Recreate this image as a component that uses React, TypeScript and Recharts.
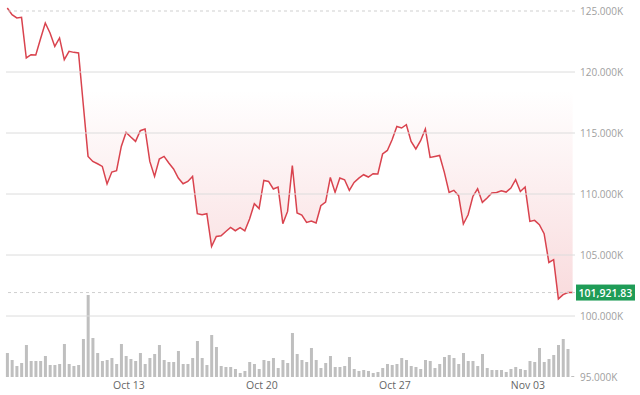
import React from 'react';
import {
  ComposedChart,
  Area,
  Bar,
  XAxis,
  YAxis,
  ReferenceLine,
} from 'recharts';

// 6-hour closes
const prices = [
  125250, 124700, 124430, 124480, 121150, 121420, 121400, 122730, 124020, 123200,
  122100, 122790, 121010, 121690, 121610, 121560, 117320, 113080, 112670, 112480,
  112260, 110820, 111800, 111910, 113900, 115050, 114670, 114310, 115190, 115330,
  112670, 111440, 112870, 113080, 112540, 112050, 111310, 110840, 111030, 111440,
  108390, 108300, 108380, 105700, 106520, 106580, 106930, 107260, 106990, 107250,
  106980, 107950, 109200, 108800, 111110, 111030, 110410, 110570, 107570, 108570,
  112320, 108440, 108280, 107670, 107790, 107620, 109040, 109340, 111360, 110130,
  111310, 111170, 110300, 110950, 111300, 111580, 111390, 111660, 111640, 113280,
  113570, 114450, 115540, 115410, 115680, 114310, 113690, 114370, 115330, 113000,
  113080, 113160, 111770, 110130, 110300, 109860, 107540, 108300, 109800, 110430,
  109310, 109670, 110080, 110130, 110270, 110160, 110490, 111170, 110210, 110570,
  107750, 107840, 107480, 106750, 104390, 104620, 101400, 101750, 101930, 101921.83,
];

// volume per bar (relative units)
const volumes = [
  24, 17, 11, 14, 32, 16, 16, 16, 21, 12,
  12, 13, 33, 13, 11, 12, 38, 82, 39, 24,
  16, 17, 19, 13, 33, 21, 18, 16, 24, 13,
  19, 23, 32, 17, 15, 15, 26, 13, 13, 19,
  36, 19, 12, 42, 30, 11, 10, 10, 8, 4,
  6, 15, 13, 8, 17, 16, 19, 9, 17, 14,
  44, 23, 17, 15, 29, 17, 9, 14, 21, 10,
  10, 11, 20, 8, 6, 7, 6, 4, 5, 9,
  13, 12, 13, 19, 17, 11, 10, 8, 17, 16,
  9, 13, 20, 22, 19, 13, 24, 16, 16, 11,
  23, 9, 7, 7, 7, 5, 8, 10, 8, 7,
  16, 15, 29, 15, 18, 22, 32, 38, 28, 1,
];

const dateTicks = [25.6, 53.6, 81.6, 109.6];
const dateLabels = ['Oct 13', 'Oct 20', 'Oct 27', 'Nov 03'];
const priceTicks = [95000, 100000, 105000, 110000, 115000, 120000, 125000];
const gridLevels = [100000, 105000, 110000, 115000, 120000];
const lastPrice = 101921.83;

const data = prices.map((p, i) => ({ i, price: p, volume: volumes[i] }));

const PriceTag = (props: any) => {
  const vb = props.viewBox || {};
  const x = vb.x + vb.width + 1;
  const y = vb.y;
  return (
    <g>
      <rect x={x} y={y - 8} width={59} height={16} fill="#1f9c57" />
      <text
        x={x + 29.5}
        y={y + 4}
        textAnchor="middle"
        fill="#fff"
        fontSize={10.5}
        fontWeight={600}
        fontFamily="Open Sans"
      >
        {lastPrice.toLocaleString('en-US', { minimumFractionDigits: 2 })}
      </text>
    </g>
  );
};

export default function App() {
  return (
    <div style={{ position: 'absolute', left: 0, top: 0, background: '#fff' }}>
      <ComposedChart
        width={640}
        height={395}
        data={data}
        margin={{ top: 5, right: 0, bottom: 0, left: 6 }}
      >
        <defs>
          <linearGradient id="dropFill" gradientUnits="userSpaceOnUse" x1="0" y1="90" x2="0" y2="300">
            <stop offset="0" stopColor="#e04b55" stopOpacity={0} />
            <stop offset="1" stopColor="#e04b55" stopOpacity={0.2} />
          </linearGradient>
        </defs>
        <XAxis
          dataKey="i"
          type="number"
          domain={[-0.27, 119.5]}
          ticks={dateTicks}
          tickFormatter={(v: number) => dateLabels[dateTicks.indexOf(v)] ?? ''}
          axisLine={false}
          tickLine={false}
          tickSize={0}
          tickMargin={5}
          height={18}
          interval={0}
          tick={{ fontSize: 10.5, fill: '#666', fontFamily: 'Open Sans' }}
        />
        <YAxis
          yAxisId="price"
          orientation="right"
          domain={[95000, 125492]}
          ticks={priceTicks}
          tickFormatter={(v: number) => (v / 1000).toFixed(3) + 'K'}
          axisLine={false}
          tickLine={false}
          tickSize={0}
          tickMargin={5}
          width={65}
          interval={0}
          tick={{ fontSize: 10, fill: '#a0a0a0', fontFamily: 'Open Sans' }}
        />
        <YAxis yAxisId="vol" hide domain={[0, 372]} />
        {gridLevels.map((v) => (
          <ReferenceLine key={v} yAxisId="price" y={v} stroke="#dcdcdc" strokeWidth={1} />
        ))}
        <ReferenceLine yAxisId="price" y={125000} stroke="#cfcfcf" strokeDasharray="3 3" />
        <Bar
          yAxisId="vol"
          dataKey="volume"
          fill="#bfbfbf"
          barSize={3}
          isAnimationActive={false}
        />
        <Area
          yAxisId="price"
          type="linear"
          dataKey="price"
          baseValue={125492}
          stroke="#d9434e"
          strokeWidth={1.5}
          fill="url(#dropFill)"
          fillOpacity={1}
          dot={false}
          activeDot={false}
          isAnimationActive={false}
        />
        <ReferenceLine
          yAxisId="price"
          y={lastPrice}
          stroke="#cfcfcf"
          strokeDasharray="3 3"
          label={<PriceTag />}
        />
      </ComposedChart>
    </div>
  );
}
